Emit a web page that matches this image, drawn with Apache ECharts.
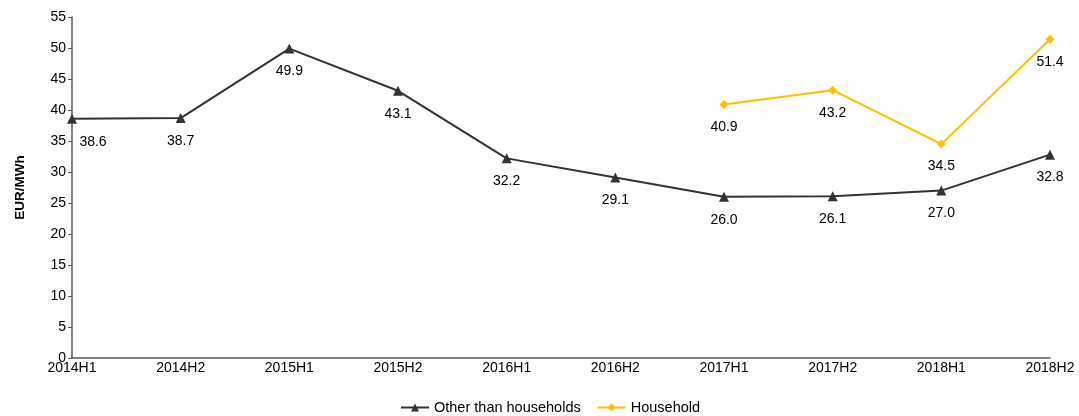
<!DOCTYPE html>
<html>
<head>
<meta charset="utf-8">
<script src="https://cdn.jsdelivr.net/npm/echarts@6/dist/echarts.min.js"></script>
<style>
    html, body { margin: 0; padding: 0; background: #fff; }
    #chart { width: 1079px; height: 416px; }
</style>
</head>
<body>
<div id="chart"></div>
<script>
    // data
    var categories = ['2014H1', '2014H2', '2015H1', '2015H2', '2016H1', '2016H2', '2017H1', '2017H2', '2018H1', '2018H2'];
    var otherValues = [38.6, 38.7, 49.9, 43.1, 32.2, 29.1, 26.0, 26.1, 27.0, 32.8];
    var householdValues = [null, null, null, null, null, null, 40.9, 43.2, 34.5, 51.4];

    var font = 'Liberation Sans, Arial, sans-serif';
    var chart = echarts.init(document.getElementById('chart'));

    // first point's label sits to the right so it isn't cut by the axis
    var otherData = otherValues.map(function (v, i) {
        if (i === 0) return { value: v, label: { offset: [21, 0] } };
        return v;
    });

    var option = {
        animation: false,
        textStyle: { fontFamily: font },
        grid: { left: 72, right: 29, top: 17, bottom: 58 },
        legend: {
            top: 400,
            left: 400,
            padding: 0,
            itemWidth: 28,
            itemHeight: 10,
            itemGap: 16,
            textStyle: { fontSize: 14.5, color: '#000', fontFamily: font },
            data: ['Other than households', 'Household']
        },
        xAxis: {
            type: 'category',
            data: categories,
            boundaryGap: false,
            axisLine: { lineStyle: { color: '#595959', width: 1.5 } },
            axisTick: { show: false },
            axisLabel: { color: '#000', fontSize: 14, margin: 3, fontFamily: font }
        },
        yAxis: {
            type: 'value',
            min: 0,
            max: 55,
            interval: 5,
            name: 'EUR/MWh',
            nameLocation: 'middle',
            nameGap: 45,
            nameTextStyle: { color: '#000', fontSize: 13.5, fontWeight: 'bold', fontFamily: font },
            axisLine: { show: true, lineStyle: { color: '#595959', width: 1.5 } },
            axisTick: { show: true, length: 4, lineStyle: { color: '#595959' } },
            splitLine: { show: false },
            axisLabel: { color: '#000', fontSize: 14, margin: 6, fontFamily: font }
        },
        series: [
            {
                name: 'Other than households',
                type: 'line',
                data: otherData,
                symbol: 'triangle',
                symbolSize: 10,
                lineStyle: { color: '#333333', width: 2 },
                itemStyle: { color: '#333333' },
                label: {
                    show: true,
                    position: 'bottom',
                    distance: 11,
                    color: '#000',
                    fontSize: 14,
                    fontFamily: font,
                    formatter: function (p) { return p.value.toFixed(1); }
                }
            },
            {
                name: 'Household',
                type: 'line',
                data: householdValues,
                connectNulls: false,
                symbol: 'diamond',
                symbolSize: 9,
                lineStyle: { color: '#FFC000', width: 2 },
                itemStyle: { color: '#FFC000' },
                label: {
                    show: true,
                    position: 'bottom',
                    distance: 11,
                    color: '#000',
                    fontSize: 14,
                    fontFamily: font,
                    formatter: function (p) { return p.value == null ? '' : p.value.toFixed(1); }
                }
            }
        ]
    };
    chart.setOption(option);
</script>
</body>
</html>
